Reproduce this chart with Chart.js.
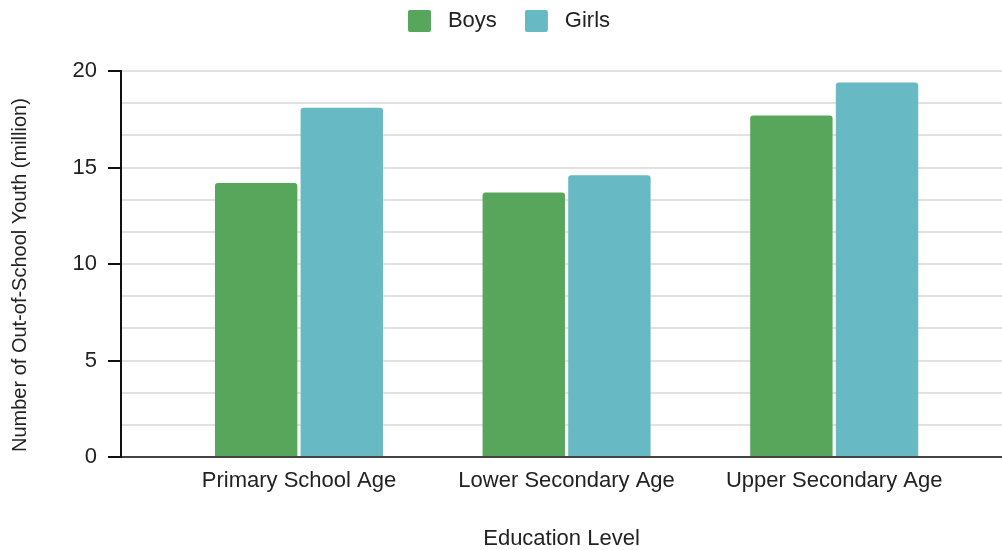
<!DOCTYPE html>
<html>
<head>
<meta charset="utf-8">
<title>Out-of-School Youth by Education Level</title>
<script src="https://cdn.jsdelivr.net/npm/chart.js@4.4.1/dist/chart.umd.min.js"></script>
<style>
  html, body { margin: 0; padding: 0; background: #ffffff; }
  #wrap { width: 1002px; height: 550px; }
</style>
</head>
<body>
<div id="wrap"><canvas id="chart" width="1002" height="550"></canvas></div>
<script>
// Data: out-of-school youth (millions) by education level
const categories = ['Primary School Age', 'Lower Secondary Age', 'Upper Secondary Age'];
const seriesNames = ['Boys', 'Girls'];
const boysValues = [14.2, 13.7, 17.7];
const girlsValues = [18.1, 14.6, 19.4];
const yMajorTicks = [0, 5, 10, 15, 20];
const yMinorDivisions = 3;

const boysColor = '#58a55c';
const girlsColor = '#67bac3';
const textColor = '#222222';

Chart.defaults.font.family = '"Liberation Sans", Arial, sans-serif';
Chart.defaults.font.size = 22;
Chart.defaults.color = textColor;

// Legend swatch: a filled square with a little trailing space before the label
function makeSwatch(color) {
  const c = document.createElement('canvas');
  c.width = 29; c.height = 22;
  const g = c.getContext('2d');
  g.fillStyle = color;
  g.beginPath();
  g.roundRect(0, 0, 23, 22, 2);
  g.fill();
  return c;
}
const swatches = [makeSwatch(boysColor), makeSwatch(girlsColor)];

const toPoints = vals => vals.map((v, i) => ({ x: i, y: v }));
const isMajor = v => yMajorTicks.some(m => Math.abs(m - v) < 1e-6);

// Leave extra room between the legend row and the plot area
const legendSpacing = {
  id: 'legendSpacing',
  afterInit(chart) {
    const legend = chart.legend;
    if (!legend) return;
    const baseFit = legend.fit;
    legend.fit = function () {
      baseFit.call(this);
      this.height += 29;
    };
  }
};

new Chart(document.getElementById('chart'), {
  type: 'bar',
  data: {
    datasets: [
      { label: seriesNames[0], data: toPoints(boysValues), backgroundColor: boysColor },
      { label: seriesNames[1], data: toPoints(girlsValues), backgroundColor: girlsColor }
    ]
  },
  plugins: [legendSpacing],
  options: {
    responsive: false,
    devicePixelRatio: 1,
    animation: false,
    layout: { padding: { top: -18, left: 16, right: 0, bottom: 0 } },
    datasets: {
      bar: {
        categoryPercentage: 0.64,
        barPercentage: 0.962,
        borderRadius: 3,
        borderSkipped: 'start'
      }
    },
    plugins: {
      tooltip: { enabled: false },
      legend: {
        position: 'top',
        align: 'center',
        labels: {
          usePointStyle: true,
          pointStyleWidth: 29,
          boxHeight: 22,
          padding: 28,
          color: textColor,
          font: { size: 22 },
          generateLabels: chart => {
            const items = Chart.defaults.plugins.legend.labels.generateLabels(chart);
            items.forEach((it, i) => { it.pointStyle = swatches[i]; });
            return items;
          }
        }
      }
    },
    scales: {
      x: {
        type: 'linear',
        offset: false,
        min: -0.665,
        max: 2.627,
        afterFit: s => { s.height = 93; },
        afterBuildTicks: s => { s.ticks = categories.map((_, i) => ({ value: i })); },
        grid: { display: true, offset: false, drawOnChartArea: false, drawTicks: false },
        border: { display: true, color: '#444444', width: 2 },
        ticks: {
          autoSkip: false,
          maxRotation: 0,
          padding: 11,
          color: textColor,
          font: { size: 22 },
          callback: v => categories[Math.round(v)] ?? ''
        },
        title: {
          display: true,
          text: 'Education Level',
          color: textColor,
          font: { size: 22, lineHeight: 1 },
          padding: { top: 0, bottom: 0 }
        }
      },
      y: {
        type: 'linear',
        min: yMajorTicks[0],
        max: yMajorTicks[yMajorTicks.length - 1],
        afterFit: s => { s.width = 105; },
        afterBuildTicks: s => {
          const ticks = [];
          for (let k = 0; k < yMajorTicks.length - 1; k++) {
            const a = yMajorTicks[k], b = yMajorTicks[k + 1];
            for (let j = 0; j < yMinorDivisions; j++) ticks.push({ value: a + (b - a) * j / yMinorDivisions });
          }
          ticks.push({ value: yMajorTicks[yMajorTicks.length - 1] });
          s.ticks = ticks;
        },
        grid: {
          color: '#e2e2e2',
          lineWidth: 2,
          drawTicks: true,
          tickLength: 13,
          tickWidth: 2,
          tickColor: ctx => (ctx.tick && isMajor(ctx.tick.value)) ? '#111111' : 'rgba(0,0,0,0)'
        },
        border: { display: true, color: '#111111', width: 2 },
        ticks: {
          autoSkip: false,
          padding: 11,
          color: textColor,
          font: { size: 22 },
          callback: v => isMajor(v) ? String(Math.round(v)) : ''
        },
        title: {
          display: true,
          text: 'Number of Out-of-School Youth (million)    ',
          color: textColor,
          font: { size: 20, lineHeight: 1 },
          padding: { top: -6, bottom: 0 }
        }
      }
    }
  }
});
</script>
</body>
</html>
